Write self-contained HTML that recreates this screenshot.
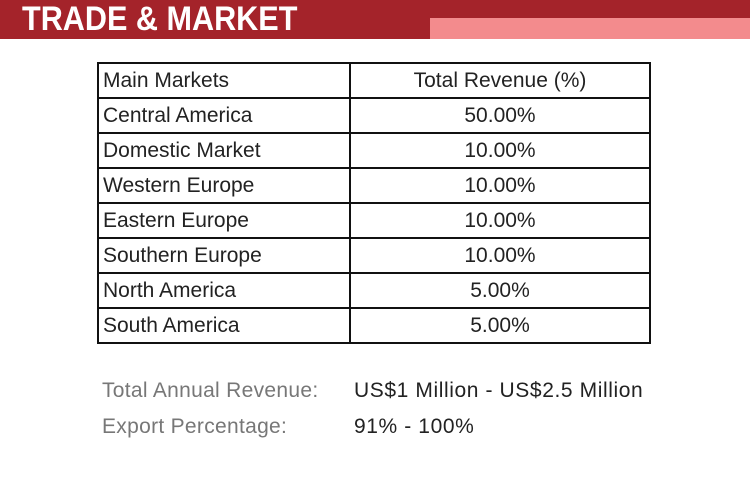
<!DOCTYPE html>
<html><head><meta charset="utf-8"><style>
body{margin:0;width:750px;height:491px;background:#fff;position:relative;overflow:hidden;font-family:"Liberation Sans",Arial,sans-serif}
.band{position:absolute;left:0;top:0;width:750px;height:39px;background:#a4232a}
.pink{position:absolute;left:430px;top:18px;width:320px;height:21px;background:#f38b8d}
.title{position:absolute;left:22px;top:0px;color:#fff;font-weight:bold;font-size:34px;transform:scaleX(0.9);transform-origin:left}
table{position:absolute;left:97px;top:62px;border-collapse:collapse;font-size:21px;color:#222;table-layout:fixed;width:554px}
td{border:2px solid #111;height:33px;padding:0 0 0 4px;line-height:33px;white-space:nowrap}
td.c{text-align:center;padding:0}
.info{position:absolute;font-size:21px;color:#777;letter-spacing:0.3px}
.val{position:absolute;font-size:21px;color:#222;letter-spacing:0.6px}
</style></head><body>
<div class="band"></div><div class="pink"></div>
<div class="title">TRADE &amp; MARKET</div>
<table>
<tr><td style="width:246px">Main Markets</td><td class="c">Total Revenue (%)</td></tr>
<tr><td>Central America</td><td class="c">50.00%</td></tr>
<tr><td>Domestic Market</td><td class="c">10.00%</td></tr>
<tr><td>Western Europe</td><td class="c">10.00%</td></tr>
<tr><td>Eastern Europe</td><td class="c">10.00%</td></tr>
<tr><td>Southern Europe</td><td class="c">10.00%</td></tr>
<tr><td>North America</td><td class="c">5.00%</td></tr>
<tr><td>South America</td><td class="c">5.00%</td></tr>
</table>
<div class="info" style="left:102px;top:379px">Total Annual Revenue:</div>
<div class="val" style="left:354px;top:379px">US$1 Million - US$2.5 Million</div>
<div class="info" style="left:102px;top:415px">Export Percentage:</div>
<div class="val" style="left:354px;top:415px">91% - 100%</div>
</body></html>
